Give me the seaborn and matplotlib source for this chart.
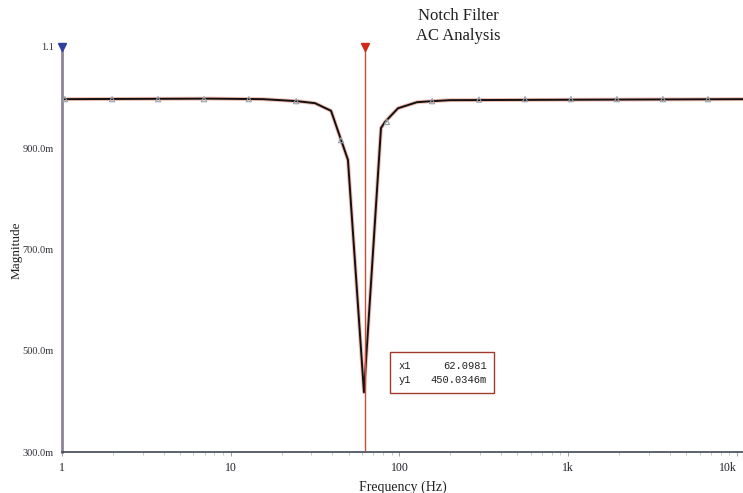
import matplotlib
matplotlib.use("Agg")
import matplotlib.pyplot as plt
import matplotlib.patches as mpatches
import matplotlib.ticker as mticker
import numpy as np
import pandas as pd
import seaborn as sns

# ---- data ----
freq = [1, 7.53, 15.5, 24.7, 31.6, 39.3, 49.5, 61.6, 77.7, 82.1, 98.0, 127, 156, 199, 10860]
mag = [0.997, 0.998, 0.997, 0.993, 0.989, 0.974, 0.877, 0.418, 0.940, 0.952, 0.979, 0.991, 0.993, 0.995, 0.997]

marker_freq = [1.04, 1.98, 3.71, 6.94, 12.8, 24.4, 45.0, 84.3, 156, 296, 555, 1038, 1944, 3641, 6735]
marker_mag = [0.997, 0.997, 0.997, 0.997, 0.997, 0.993, 0.916, 0.952, 0.993, 0.996, 0.997, 0.997, 0.997, 0.997, 0.997]

cursor_x1 = 62.0981
cursor_y1 = "450.0346m"
cursor_label_x = "62.0981"

x_ticks = [1, 10, 100, 1000, 10000]
x_ticklabels = ["1", "10", "100", "1k", "10k"]
y_ticks = [0.3, 0.5, 0.7, 0.9, 1.1]
y_ticklabels = ["300.0m", "500.0m", "700.0m", "900.0m", "1.1"]

title_lines = ["Notch Filter", "AC Analysis"]
xlabel = "Frequency (Hz)"
ylabel = "Magnitude"

# ---- plotting ----
sns.set_theme(style="white")
plt.rcParams["font.family"] = ["Liberation Serif", "DejaVu Serif"]

W, H = 743, 493
fig = plt.figure(figsize=(W / 100, H / 100), dpi=100)
fig.patch.set_facecolor("white")
ax = fig.add_axes([62 / W, 1 - 452 / H, (743 - 62) / W, (452 - 47) / H])

df = pd.DataFrame({"freq": freq, "mag": mag})
mk = pd.DataFrame({"freq": marker_freq, "mag": marker_mag})

# reddish shadow trace under the black trace
sns.lineplot(data=df, x="freq", y="mag", ax=ax, color="#e89080", lw=2.8, alpha=0.6, sort=False)
sns.lineplot(data=df, x="freq", y="mag", ax=ax, color="#111111", lw=1.4, sort=False)
sns.scatterplot(data=mk, x="freq", y="mag", ax=ax, marker="^", s=14,
                facecolor="none", edgecolor="#98a4ae", linewidth=0.8, zorder=4)

ax.set_xscale("log")
ax.set_xlim(1, 10860)
ax.set_ylim(0.3, 1.1)

# cursors
ax.axvline(cursor_x1, color="#c0503c", lw=1.0, zorder=3)
ax.plot([cursor_x1], [1.1], marker="v", color="#d02818", markersize=6, clip_on=False, zorder=6)
ax.plot([1], [1.1], marker="v", color="#3040a0", markersize=6, clip_on=False, zorder=6)

for side in ["top", "right"]:
    ax.spines[side].set_visible(False)
ax.spines["left"].set_color("#8c8496")
ax.spines["left"].set_linewidth(2.0)
ax.spines["bottom"].set_color("#404858")
ax.spines["bottom"].set_linewidth(1.2)

ax.set_xticks(x_ticks)
ax.set_xticklabels(x_ticklabels)
ax.xaxis.set_minor_locator(mticker.LogLocator(base=10, subs=np.arange(2, 10)))
ax.xaxis.set_minor_formatter(mticker.NullFormatter())
ax.tick_params(axis="x", which="major", length=3, width=0.6, color="#8890a0", labelsize=8.5,
               labelcolor="#202028", pad=4, direction="out", bottom=True)
ax.tick_params(axis="x", which="minor", length=2, width=0.5, color="#a8b0b8", bottom=True)
ax.get_xticklabels()[-1].set_horizontalalignment("right")
ax.set_yticks(y_ticks)
ax.set_yticklabels(y_ticklabels)
ax.tick_params(axis="y", length=0, labelsize=7.5, labelcolor="#303038", pad=6)

ax.set_xlabel(xlabel, fontsize=10, color="#202020", labelpad=5)
ax.set_ylabel("")
fig.text(17 / W, 1 - 250 / H, ylabel, rotation=90, ha="center", va="center", fontsize=9.5, color="#202020")
ax.set_facecolor("white")

# title
fig.text(458 / W, 1 - 16 / H, title_lines[0], ha="center", va="center", fontsize=12, color="#202020")
fig.text(458 / W, 1 - 36 / H, title_lines[1], ha="center", va="center", fontsize=12, color="#202020")

# cursor readout box
rect = mpatches.Rectangle((390 / W, 1 - 393 / H), 104 / W, 41 / H, transform=fig.transFigure,
                          facecolor="white", edgecolor="#a03a2a", lw=1.0, zorder=10)
fig.patches.append(rect)
mono = ["Liberation Mono", "DejaVu Sans Mono"]
fig.text(399 / W, 1 - 366 / H, "x1", family=mono, fontsize=7.5, ha="left", va="center", color="#202020", zorder=11)
fig.text(487 / W, 1 - 366 / H, cursor_label_x, family=mono, fontsize=7.5, ha="right", va="center", color="#202020", zorder=11)
fig.text(399 / W, 1 - 380 / H, "y1", family=mono, fontsize=7.5, ha="left", va="center", color="#202020", zorder=11)
fig.text(487 / W, 1 - 380 / H, cursor_y1, family=mono, fontsize=7.5, ha="right", va="center", color="#202020", zorder=11)

fig.savefig("out.png", dpi=100, facecolor="white")
